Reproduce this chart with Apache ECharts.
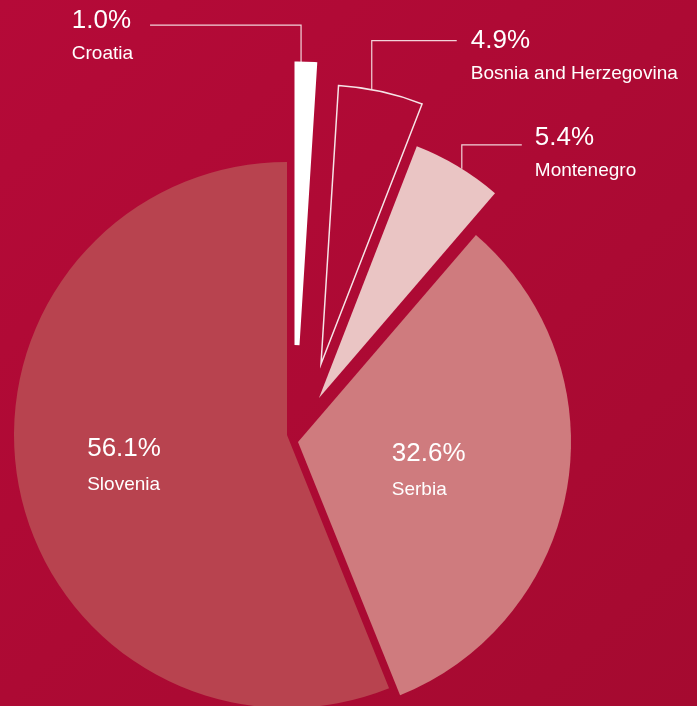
<!DOCTYPE html>
<html>
<head>
<meta charset="utf-8">
<title>Share by country</title>
<script src="https://cdn.jsdelivr.net/npm/echarts@6/dist/echarts.min.js"></script>
<style>
  html, body { margin: 0; padding: 0; }
  #chart {
    width: 697px; height: 706px;
    background: linear-gradient(135deg, #B50A38 0%, #AD0A34 50%, #A50A30 100%);
  }
</style>
</head>
<body>
<div id="chart"></div>
<script>
// Shares (in %) going clockwise from 12 o'clock
const countries = ['Croatia', 'Bosnia and Herzegovina', 'Montenegro', 'Serbia', 'Slovenia'];
const shares = [1.0, 4.9, 5.4, 32.6, 56.1];
const sliceColors = ['#FFFFFF', 'rgba(0,0,0,0)', '#EAC5C4', '#CF7B7E', '#B8434F'];

// Each slice is pulled out of the pie by its own amount: apex position and radius per slice
const sliceGeometry = {
  'Croatia':                { center: [297, 345], radius: 281, border: { color: '#FFFFFF', width: 5 } },
  'Bosnia and Herzegovina': { center: [321, 364], radius: 279, border: { color: '#F6E4E7', width: 1.5 } },
  'Montenegro':             { center: [319, 398], radius: 270 },
  'Serbia':                 { center: [298, 442], radius: 273 },
  'Slovenia':               { center: [287, 435], radius: 273 }
};

// Callouts for the small slices: where the leader leaves the arc (fraction of the slice's sweep),
// how far it rises, how long the horizontal arm is, and the text block placement
const callouts = {
  'Croatia':                { along: 0.23, rise: 39, arm: -151, gap: 17, lift: 21 },
  'Bosnia and Herzegovina': { along: 0.39, rise: 49, arm: 85,   gap: 14, lift: 17 },
  'Montenegro':             { along: 0.55, rise: 24, arm: 60,   gap: 13, lift: 24 }
};
// Inside labels: shift from the library's default position
const insideShift = {
  'Serbia':   [-7, 1],
  'Slovenia': [-26, -1]
};

const FONT = '"Liberation Sans", Arial, Helvetica, sans-serif';

// Cumulative start angle (degrees clockwise from 12 o'clock) of every slice
const total = shares.reduce(function (a, b) { return a + b; }, 0);
const startDeg = [];
shares.reduce(function (acc, v, i) { startDeg[i] = acc / total * 360; return acc + v; }, 0);

function labelText(p) {
  return '{p|' + p.value.toFixed(1) + '%}\n{n|' + p.name + '}';
}

function richStyles(inside) {
  return {
    p: { fontSize: 26, color: '#FFFFFF', fontFamily: FONT, lineHeight: inside ? 37 : 34 },
    n: { fontSize: 19, color: '#FFFFFF', fontFamily: FONT, lineHeight: inside ? 34 : 32 }
  };
}

const chart = echarts.init(document.getElementById('chart'), null, { renderer: 'canvas' });

// Drawing order: big slices first, thin ones on top
const drawOrder = ['Slovenia', 'Serbia', 'Montenegro', 'Bosnia and Herzegovina', 'Croatia'];

const series = drawOrder.map(function (country) {
  const idx = countries.indexOf(country);
  const geo = sliceGeometry[country];
  const inside = insideShift[country] !== undefined;
  const data = countries.map(function (name, j) {
    if (j !== idx) {
      return {
        name: name, value: shares[j],
        itemStyle: { color: 'rgba(0,0,0,0)', borderWidth: 0 },
        label: { show: false }, labelLine: { show: false }
      };
    }
    const item = {
      name: name, value: shares[j],
      itemStyle: { color: sliceColors[j], borderWidth: 0 },
      label: {
        show: true,
        position: inside ? 'inside' : 'outside',
        formatter: labelText,
        rich: richStyles(inside),
        color: '#FFFFFF'
      },
      labelLine: {
        show: !inside,
        length: 10, length2: 10,
        lineStyle: { color: '#F2D3D9', width: 1.2 }
      }
    };
    if (geo.border) {
      item.itemStyle.borderColor = geo.border.color;
      item.itemStyle.borderWidth = geo.border.width;
      item.itemStyle.borderJoin = 'miter';
      item.itemStyle.borderMiterLimit = 10;
    }
    return item;
  });

  return {
    type: 'pie',
    name: country,
    center: geo.center,
    radius: [0, geo.radius],
    startAngle: 90,
    clockwise: true,
    avoidLabelOverlap: false,
    silent: true,
    animation: false,
    emphasis: { disabled: true },
    data: data,
    labelLayout: function (params) {
      if (params.dataIndex !== idx) return {};
      if (inside) {
        const s = insideShift[country];
        return {
          x: params.labelRect.x + s[0],
          y: params.labelRect.y + s[1],
          align: 'left',
          verticalAlign: 'top'
        };
      }
      const c = callouts[country];
      // point on the slice's arc where the leader starts
      const sweep = shares[idx] / total * 360;
      const a = (startDeg[idx] + sweep * c.along) * Math.PI / 180;
      const p0 = [geo.center[0] + geo.radius * Math.sin(a), geo.center[1] - geo.radius * Math.cos(a)];
      const yLine = p0[1] - c.rise;
      const xEnd = p0[0] + c.arm;
      const w = params.labelRect.width;
      const x = c.arm < 0 ? xEnd - c.gap - w : xEnd + c.gap;
      return {
        x: x,
        y: yLine - c.lift,
        align: 'left',
        verticalAlign: 'top',
        labelLinePoints: [p0, [p0[0], yLine], [xEnd, yLine]]
      };
    }
  };
});

chart.setOption({
  backgroundColor: 'transparent',
  tooltip: { show: false },
  series: series
});
</script>
</body>
</html>
